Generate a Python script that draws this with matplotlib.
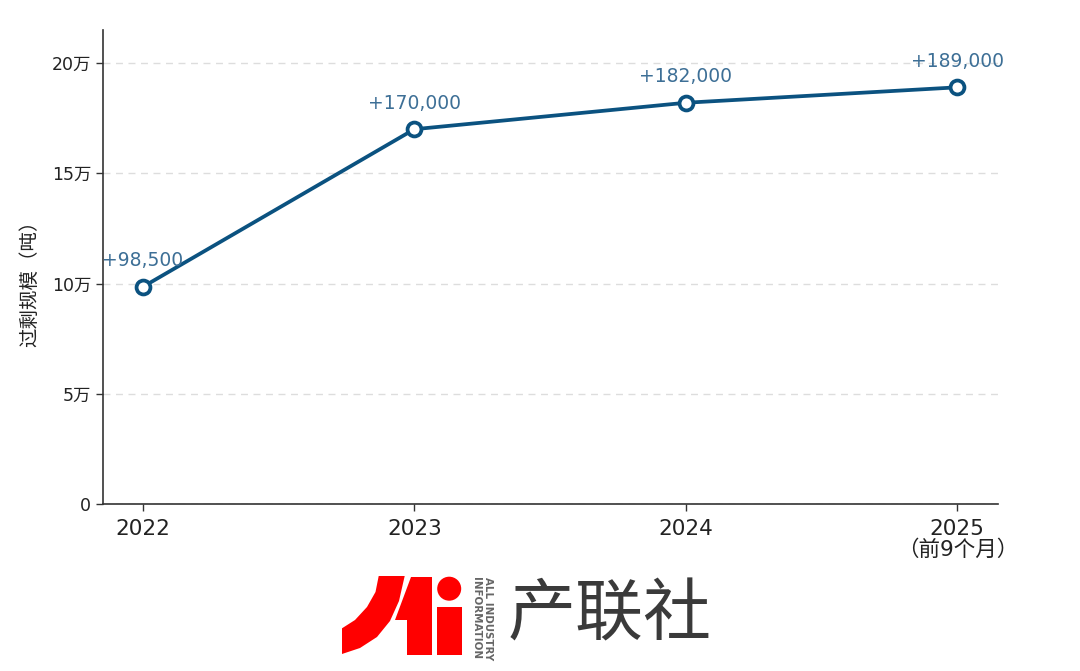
import matplotlib
matplotlib.use("Agg")
import matplotlib.pyplot as plt
from matplotlib.patches import Polygon, Circle, Rectangle

plt.rcParams['font.family'] = ['DejaVu Sans', 'Noto Sans CJK SC']

# ---- data ----
years = ["2022", "2023", "2024", "2025\n（前9个月）"]
surplus = [98500, 170000, 182000, 189000]
point_labels = ["+98,500", "+170,000", "+182,000", "+189,000"]
yticks = [0, 50000, 100000, 150000, 200000]
ytick_labels = ["0", "5万", "10万", "15万", "20万"]

line_color = "#0b5280"
label_color = "#3d6f96"

fig = plt.figure(figsize=(10.8, 6.71), dpi=100)
ax = fig.add_axes([103/1080, 1-504/671, (998-103)/1080, (504-30)/671])

x = list(range(len(years)))
ax.plot(x, surplus, color=line_color, lw=2.7, marker='o', ms=10,
        mfc='white', mec=line_color, mew=2.7, zorder=3, solid_capstyle='round')

for xi, yi, lab in zip(x, surplus, point_labels):
    ax.annotate(lab, (xi, yi), xytext=(0, 12), textcoords='offset points',
                ha='center', va='bottom', fontsize=13.5, color=label_color)

ax.set_xlim(-0.147, 3.15)
ax.set_ylim(0, 215000)
ax.set_xticks(x)
ax.set_xticklabels(years, fontsize=15.5, color='#222222', linespacing=1.0)
ax.set_yticks(yticks)
ax.set_yticklabels(ytick_labels, fontsize=12.5, color='#222222')
ax.set_ylabel("过剩规模（吨）", fontsize=14, color='#222222')
ax.yaxis.set_label_coords(-0.071, 0.475)

ax.grid(axis='y', linestyle=(0, (5, 4)), color='#dddddd', lw=1.0)
ax.set_axisbelow(True)
for s in ['top', 'right']:
    ax.spines[s].set_visible(False)
for s in ['left', 'bottom']:
    ax.spines[s].set_color('#333333')
    ax.spines[s].set_linewidth(1.2)
ax.tick_params(axis='both', color='#333333', length=5, width=1.0)
ax.tick_params(axis='x', pad=6)

# ---- logo (decorative) ----
lg = fig.add_axes([0, 0, 1, 1], zorder=5)
lg.set_xlim(0, 1080)
lg.set_ylim(671, 0)
lg.axis('off')
lg.patch.set_alpha(0)
red = "#ff0000"
wedge = [(378.7, 576), (375.5, 592), (367, 607), (355, 620), (342, 628.3),
         (342, 654), (360, 648), (377, 637), (390, 621), (399, 601), (404.7, 576)]
lg.add_patch(Polygon(wedge, closed=True, color=red, lw=0))
one = [(410.5, 576.7), (431.7, 576.7), (431.7, 655), (406.7, 655), (406.7, 620), (395.3, 620)]
lg.add_patch(Polygon(one, closed=True, color=red, lw=0))
lg.add_patch(Rectangle((436.7, 606.7), 25, 48.3, color=red, lw=0))
lg.add_patch(Circle((449.2, 588.7), 12.0, color=red, lw=0))
lg.text(488, 577, "ALL INDUSTRY", rotation=-90, ha='center', va='top',
        fontsize=7.4, color='#666666', fontweight='bold', family='Liberation Sans Narrow')
lg.text(475.5, 577, "INFORMATION", rotation=-90, ha='center', va='top',
        fontsize=7.4, color='#666666', fontweight='bold', family='Liberation Sans Narrow')
lg.text(508, 616, "产联社", ha='left', va='center', fontsize=49, color='#3a3a3a',
        family='Noto Sans CJK SC', fontweight='light')

fig.savefig("out.png", dpi=100, facecolor='white')
